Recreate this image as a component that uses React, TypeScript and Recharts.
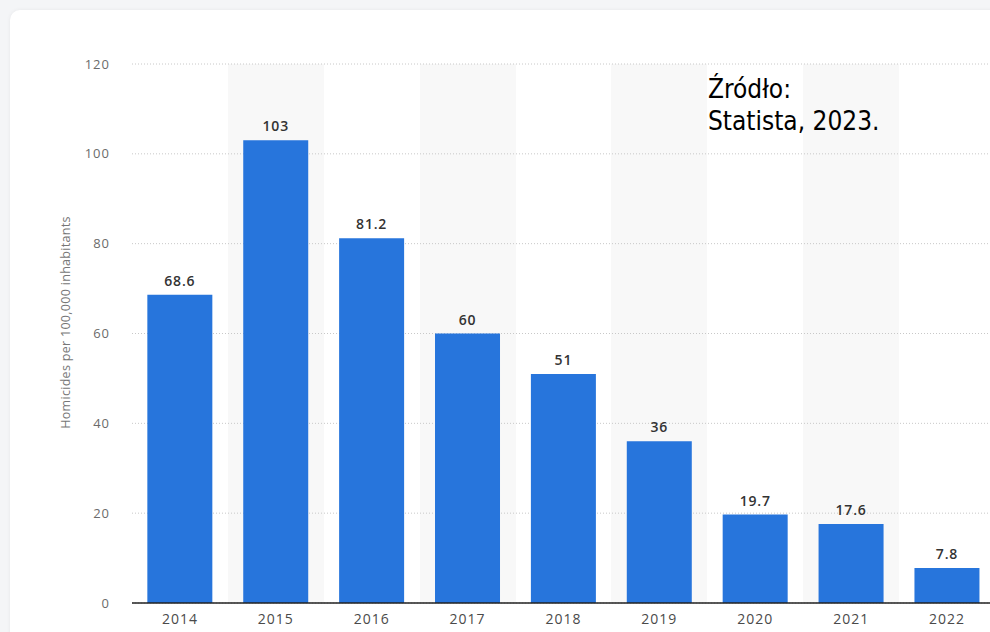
import { BarChart, Bar, XAxis, YAxis, CartesianGrid, LabelList } from "recharts";

const years = ["2014", "2015", "2016", "2017", "2018", "2019", "2020", "2021", "2022"];
const homicides = [68.6, 103, 81.2, 60, 51, 36, 19.7, 17.6, 7.8];
const yTicks = [0, 20, 40, 60, 80, 100, 120];

const data = years.map((year, i) => ({ year, value: homicides[i] }));

// band edges, so the grid can paint every other category in light grey
const bandEdges = ({ offset }: any) =>
  years.map((_, i) => offset.left + (i * offset.width) / years.length);

export default function App() {
  return (
    <div
      style={{
        position: "absolute",
        left: 0,
        top: 0,
        width: 990,
        height: 632,
        overflow: "hidden",
        background: "#f4f5f7",
      }}
    >
      <div
        style={{
          position: "absolute",
          left: 10,
          top: 10,
          width: 1010,
          height: 660,
          background: "#fff",
          borderRadius: 10,
          boxShadow: "0 0 4px rgba(0,0,0,0.06)",
        }}
      />
      <div style={{ position: "absolute", left: 0, top: 0 }}>
        <BarChart
          width={1000}
          height={632}
          data={data}
          margin={{ top: 64, right: 5, bottom: 0, left: 0 }}
          barCategoryGap="16%"
        >
          <CartesianGrid
            horizontal={false}
            vertical
            stroke="none"
            verticalFill={["#ffffff", "#f8f8f8"]}
            fillOpacity={1}
            verticalCoordinatesGenerator={bandEdges}
          />
          <CartesianGrid vertical={false} stroke="#c8c8c8" strokeDasharray="1 2" />
          <XAxis
            dataKey="year"
            height={29}
            tickLine={false}
            tickMargin={5}
            axisLine={{ stroke: "#222", strokeWidth: 1.5 }}
            tick={{ fill: "#4a4a4a", fontSize: 14, letterSpacing: 1, fontFamily: "Open Sans" }}
          />
          <YAxis
            width={132}
            domain={[0, 120]}
            ticks={yTicks}
            tickLine={false}
            axisLine={false}
            tickMargin={16}
            tick={{ fill: "#6b6b6b", fontSize: 13, letterSpacing: 1, fontFamily: "Open Sans" }}
            label={{
              value: "Homicides per 100,000 inhabitants",
              angle: -90,
              position: "center",
              dx: 0,
              dy: -11,
              style: { fill: "#777", fontSize: 12.5, letterSpacing: 0.3, fontFamily: "Open Sans" },
            }}
          />
          <Bar dataKey="value" fill="#2775dc" isAnimationActive={false}>
            <LabelList
              dataKey="value"
              position="top"
              offset={9}
              style={{
                fill: "#333",
                fontSize: 14,
                fontWeight: 600,
                letterSpacing: 0.8,
                fontFamily: "Open Sans",
              }}
            />
          </Bar>
        </BarChart>
      </div>
      <div
        style={{
          position: "absolute",
          left: 708,
          top: 73,
          fontFamily: "'DejaVu Sans Condensed', 'Liberation Sans', sans-serif",
          fontSize: 26,
          lineHeight: "32px",
          color: "#000",
        }}
      >
        Źródło:
        <br />
        Statista, 2023.
      </div>
    </div>
  );
}
